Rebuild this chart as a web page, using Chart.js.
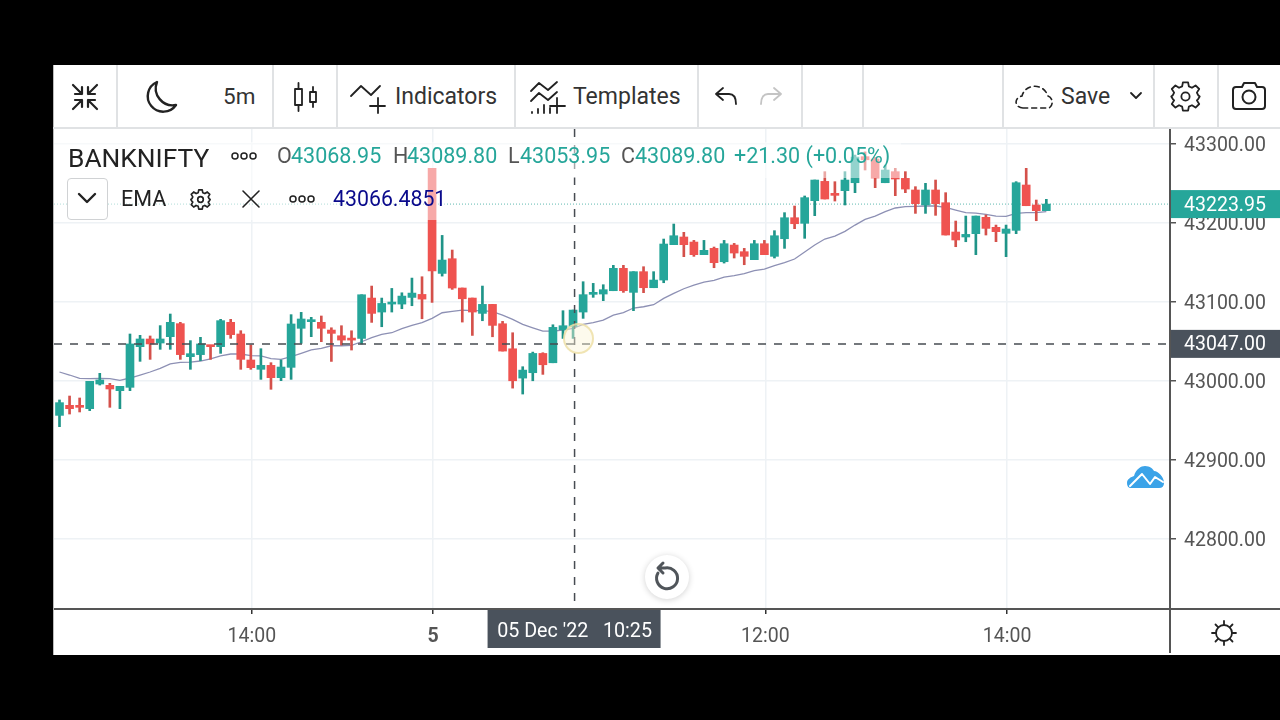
<!DOCTYPE html>
<html>
<head>
<meta charset="utf-8">
<title>BANKNIFTY</title>
<script src="https://cdn.jsdelivr.net/npm/chart.js@4"></script>
<style>
  html, body { margin: 0; padding: 0; background: #000; width: 1280px; height: 720px; overflow: hidden; }
  #app { position: absolute; left: 53px; top: 65px; width: 1227px; height: 590px; background: #fff; }
  #chart { position: absolute; left: 54px; top: 129px; }
  .sep { position: absolute; top: 65px; width: 1.5px; height: 63px; background: #e0e2e4; }
  .fade { position: absolute; background: rgba(255,255,255,0.5); }
  .t { position: absolute; font-family: Roboto, sans-serif; line-height: 1; white-space: nowrap; color: #333; }
  .g { color: #26a69a; }
  svg { position: absolute; overflow: visible; fill: none; stroke: #222; stroke-width: 2; stroke-linecap: round; stroke-linejoin: round; }
</style>
</head>
<body>
<div id="app"></div>
<div style="position:absolute;left:53px;top:65px;width:1px;height:590px;background:#bbb"></div>
<div style="position:absolute;left:53px;top:127px;width:1227px;height:2px;background:#e0e2e4"></div>
<div class="sep" style="left:116px"></div>
<div class="sep" style="left:272px"></div>
<div class="sep" style="left:336px"></div>
<div class="sep" style="left:514px"></div>
<div class="sep" style="left:697px"></div>
<div class="sep" style="left:801px"></div>
<div class="sep" style="left:862px"></div>
<div class="sep" style="left:1002px"></div>
<div class="sep" style="left:1153px"></div>
<div class="sep" style="left:1217px"></div>

<canvas id="chart" width="1226" height="526"></canvas>

<!-- legend washes out the candles under it -->
<div class="fade" style="left:54px;top:142px;width:847px;height:36px"></div>
<div class="fade" style="left:54px;top:178px;width:392px;height:42px"></div>

<!-- toolbar -->
<svg style="left:72px;top:84px;stroke-width:2.2" width="26" height="26" viewBox="0 0 26 26">
  <path d="M1 1L10 10M10 3V10H3M25 1L16 10M16 3V10H23M1 25L10 16M10 23V16H3M25 25L16 16M16 23V16H23"/>
</svg>
<svg style="left:145px;top:81px;stroke-width:2.4" width="32" height="32" viewBox="0 0 32 32">
  <path d="M12 1A15.5 15.5 0 1 0 31 24A17 17 0 0 1 12 1Z"/>
</svg>
<div class="t" style="left:223px;top:85px;font-size:22.5px">5m</div>
<svg style="left:294px;top:83px;stroke-width:1.8" width="24" height="28" viewBox="0 0 24 28">
  <rect x="1" y="6" width="7" height="16"/><path d="M4.5 0V6M4.5 22V28"/>
  <rect x="16" y="9" width="6" height="10"/><path d="M19 4V9M19 19V24"/>
</svg>
<svg style="left:351px;top:84px;stroke-width:1.8" width="34" height="30" viewBox="0 0 34 30">
  <path d="M0 12L10 2L20 11L29 2M27 14V29M19 22H34"/>
</svg>
<div class="t" style="left:395px;top:85px;font-size:23px">Indicators</div>
<svg style="left:530px;top:80px;stroke-width:1.8" width="36" height="34" viewBox="0 0 36 34">
  <path d="M1 11L9 3L18 10L27 2M1 21L9 13L18 20L27 12M2 33V32M8 33V29M14 33V25M20 33V28M27 18V33M20 26H35"/>
</svg>
<div class="t" style="left:573px;top:85px;font-size:23px">Templates</div>
<svg style="left:715px;top:87px;stroke-width:1.8" width="22" height="18" viewBox="0 0 22 18">
  <path d="M8 1L1 7L8 13M1 7H14C18 7 21 10 21 17"/>
</svg>
<svg style="left:760px;top:87px;stroke-width:1.8;stroke:#c4c4c4" width="22" height="18" viewBox="0 0 22 18">
  <path d="M14 1L21 7L14 13M21 7H8C4 7 1 10 1 17"/>
</svg>
<svg style="left:1015px;top:84px;stroke-width:1.6;stroke-dasharray:5 4" width="38" height="25" viewBox="0 0 38 25">
  <path d="M8 24C0 24-2 14 7 12C10 0 28-2 33 12C39 14 38 24 33 24Z"/>
</svg>
<div class="t" style="left:1061px;top:85px;font-size:23px">Save</div>
<svg style="left:1130px;top:92px;stroke-width:1.8" width="12" height="8" viewBox="0 0 12 8"><path d="M1 1L6 6L11 1"/></svg>
<svg style="left:1170px;top:81px;stroke-width:1.4" width="31" height="31" viewBox="0 0 24 24" id="gearTop">
  <circle cx="12" cy="12" r="3.2"/>
  <path d="M10 1H14L14.6 4.2L17 5.2L19.8 3.4L22.6 6.2L20.8 9L21.8 11L23 12L21.8 14L20.8 15L22.6 17.8L19.8 20.6L17 18.8L14.6 19.8L14 23H10L9.4 19.8L7 18.8L4.2 20.6L1.4 17.8L3.2 15L2.2 14L1 12L2.2 11L3.2 9L1.4 6.2L4.2 3.4L7 5.2L9.4 4.2Z"/>
</svg>
<svg style="left:1232px;top:82px" width="34" height="28" viewBox="0 0 34 28">
  <path d="M4 5H10L12 1H23L25 5H30Q33 5 33 8V24Q33 27 30 27H4Q1 27 1 24V8Q1 5 4 5Z"/><circle cx="17" cy="15" r="6.5"/>
</svg>

<!-- legend -->
<div class="t" style="left:68px;top:145px;font-size:26.3px;color:#222">BANKNIFTY</div>
<svg style="left:231px;top:152px;stroke-width:1.5" width="26" height="8" viewBox="0 0 26 8">
  <circle cx="4" cy="4" r="3"/><circle cx="13" cy="4" r="3"/><circle cx="22" cy="4" r="3"/>
</svg>
<div class="t" style="left:277px;top:145px;font-size:21.5px;color:#555">O</div>
<div class="t g" style="left:291px;top:145px;font-size:21.5px">43068.95</div>
<div class="t" style="left:393px;top:145px;font-size:21.5px;color:#555">H</div>
<div class="t g" style="left:407px;top:145px;font-size:21.5px">43089.80</div>
<div class="t" style="left:508px;top:145px;font-size:21.5px;color:#555">L</div>
<div class="t g" style="left:520px;top:145px;font-size:21.5px">43053.95</div>
<div class="t" style="left:621px;top:145px;font-size:21.5px;color:#555">C</div>
<div class="t g" style="left:635px;top:145px;font-size:21.5px">43089.80</div>
<div class="t g" style="left:734px;top:145px;font-size:21.5px">+21.30 (+0.05%)</div>

<div style="position:absolute;left:67px;top:178px;width:39px;height:40px;border:1.5px solid #d0d2d4;border-radius:4px;background:#fff"></div>
<svg style="left:78px;top:193px;stroke-width:2.4" width="18" height="11" viewBox="0 0 18 11"><path d="M1 1L9 9L17 1"/></svg>
<div class="t" style="left:121px;top:188px;font-size:21.5px;color:#222">EMA</div>
<svg style="left:190px;top:189px;stroke-width:1.9" width="21" height="21" viewBox="0 0 24 24">
  <circle cx="12" cy="12" r="3.2"/>
  <path d="M10 1H14L14.6 4.2L17 5.2L19.8 3.4L22.6 6.2L20.8 9L21.8 11L23 12L21.8 14L20.8 15L22.6 17.8L19.8 20.6L17 18.8L14.6 19.8L14 23H10L9.4 19.8L7 18.8L4.2 20.6L1.4 17.8L3.2 15L2.2 14L1 12L2.2 11L3.2 9L1.4 6.2L4.2 3.4L7 5.2L9.4 4.2Z"/>
</svg>
<svg style="left:243px;top:191px;stroke-width:1.6" width="16" height="16" viewBox="0 0 16 16"><path d="M0 0L16 16M16 0L0 16"/></svg>
<svg style="left:289px;top:195px;stroke-width:1.5" width="26" height="8" viewBox="0 0 26 8">
  <circle cx="4" cy="4" r="3"/><circle cx="13" cy="4" r="3"/><circle cx="22" cy="4" r="3"/>
</svg>
<div class="t" style="left:333px;top:188px;font-size:21.3px;color:#0a0a8c">43066.4851</div>

<!-- touch ring -->
<div style="position:absolute;left:563px;top:323px;width:27px;height:27px;border:2px solid rgba(236,222,160,0.75);border-radius:50%;background:rgba(250,245,215,0.45)"></div>

<!-- reset button -->
<div style="position:absolute;left:645px;top:555px;width:44px;height:44px;border-radius:50%;background:#fff;box-shadow:0 1px 6px rgba(0,0,0,0.18)"></div>
<svg style="left:653px;top:562px;stroke:#50555a;stroke-width:3" width="24" height="28" viewBox="0 0 24 28">
  <path d="M5 11A10.5 10.5 0 1 0 12 6H6M10 1L5 6L10 11"/>
</svg>

<!-- vendor cloud -->
<svg style="left:1127px;top:466px;stroke:none" width="37" height="22" viewBox="0 0 37 22">
  <path style="fill:#3ba3e8" d="M0 17C0 13 4 11 7 10C9 3 14 0 18 0C23 0 26 3 27 5C31 5 37 11 37 17Q37 22 32 22H4Q0 22 0 17Z"/>
  <path style="stroke:#fff;stroke-width:2" d="M3 20L15 8L23 18L28 11L36 16"/>
</svg>

<!-- settings sun -->
<svg style="left:1211px;top:620px;stroke-width:1.8" width="26" height="26" viewBox="0 0 26 26">
  <circle cx="13" cy="13" r="8"/><path d="M13 1V5M13 21V25M1 13H5M21 13H25M4.5 4.5L7.3 7.3M18.7 18.7L21.5 21.5M4.5 21.5L7.3 18.7M18.7 7.3L21.5 4.5"/>
</svg>

<script>
const opens = [
  42956.5, 42969.2, 42968.8, 42965, 42996.2, 42994.5, 42987.8, 42992, 43043.5, 43053.2,
  43048.1, 43056.1, 43072.6, 43030.8, 43033.4, 43045.2, 43043.5, 43074.3, 43059.5, 43026.6,
  43014.8, 43019.8, 43004.2, 43017.3, 43066.7, 43075.1, 43074.3, 43064.5, 43057.3, 43053.1,
  43053.9, 43105, 43087.3, 43097.4, 43097.4, 43105.8, 43109.6, 43269.1, 43136.2, 43154.8,
  43117.7, 43105, 43085.6, 43097, 43072.5, 43040.8, 43003.7, 43010.5, 43034.9, 43023.1,
  43064.9, 43068.95, 43087.3, 43109.7, 43110.1, 43114.3, 43142.6, 43112.2, 43138.4, 43118.1,
  43127.8, 43172.6, 43182.3, 43175.9, 43159.9, 43167.9, 43151, 43172.1, 43163.7, 43153.6,
  43173.8, 43157.8, 43180.1, 43206.7, 43199.6, 43228.3, 43252.7, 43236.3, 43240.9, 43251,
  43284, 43281, 43251, 43265, 43256.5, 43241.8, 43222.8, 43241.8, 43225.7, 43188.6,
  43182.3, 43186.5, 43207.2, 43194.5, 43186.9, 43190.7, 43248.1, 43222.8, 43215.6
];
const highs = [
  42976, 42981, 42978.5, 42999.6, 43009.7, 42997.1, 42993.3, 43059.5, 43057.8, 43057,
  43070.1, 43084.8, 43074.3, 43051.1, 43055.3, 43045.2, 43078.1, 43078.1, 43063.7, 43045.6,
  43040.9, 43023.2, 43026.6, 43084, 43086.9, 43080.6, 43082.3, 43067.4, 43070, 43063.6,
  43109.2, 43120.2, 43105, 43117.2, 43111.7, 43130.3, 43132, 43269.1, 43184.3, 43165.8,
  43117.7, 43105, 43120.2, 43097, 43075.5, 43061.1, 43018.1, 43036.6, 43035.8, 43071.2,
  43089, 43089.8, 43125.7, 43123.6, 43121.9, 43146.4, 43146.4, 43138.4, 43144.7, 43138.4,
  43179.7, 43198.7, 43188.2, 43178, 43178, 43169.6, 43178, 43174.2, 43167.9, 43178,
  43178, 43190.3, 43213.1, 43221.5, 43234.2, 43254.4, 43265, 43252.3, 43265, 43286,
  43290, 43283, 43273.4, 43269.2, 43265, 43246, 43250.2, 43254.4, 43238.4, 43202.5,
  43208.8, 43208.8, 43210.1, 43197.4, 43197.4, 43252.3, 43269.2, 43229.1, 43230
];
const lows = [
  42942.2, 42958.2, 42960.8, 42962.5, 42994.9, 42966.7, 42965, 42987.8, 43024.9, 43027.4,
  43040.1, 43040.1, 43027.4, 43014.8, 43025.8, 43027.4, 43035, 43054, 43014.8, 43014.8,
  43002.1, 42989.5, 43000.4, 43002.1, 43047.7, 43056.1, 43049.8, 43024.8, 43045.5, 43039.2,
  43046.8, 43074.2, 43068.7, 43087.3, 43091.5, 43095.3, 43078.8, 43099.5, 43132.8, 43116,
  43074.6, 43057.7, 43076.3, 43056, 43037.9, 42991, 42983.5, 43000.3, 43008.4, 43023.1,
  43053.9, 43053.95, 43079.3, 43105.9, 43101.7, 43114.3, 43112.2, 43089, 43111.8, 43118.1,
  43124.4, 43172.6, 43157.4, 43157.8, 43159.9, 43143.4, 43149.3, 43155.7, 43147.2, 43153.6,
  43159.9, 43155.7, 43167.9, 43192.8, 43180.6, 43209.3, 43230.4, 43227.8, 43222.8, 43238.4,
  43267.1, 43244.7, 43251, 43234.6, 43238.4, 43212.2, 43212.2, 43209.7, 43184.8, 43170,
  43176.3, 43159.9, 43184.8, 43176.4, 43157.4, 43186.5, 43221.9, 43202.9, 43215.6
];
const closes = [
  42972.6, 42965, 42966.7, 42999.6, 43001.3, 42989.9, 42993.3, 43046.9, 43053.2, 43046.9,
  43053.2, 43074.3, 43033.4, 43034.6, 43046.9, 43043.5, 43076.4, 43058.7, 43027.4, 43016.9,
  43019.8, 43004.2, 43017.7, 43072.2, 43078.5, 43076.4, 43066.7, 43060.3, 43051.8, 43051.8,
  43109.2, 43085.6, 43098.2, 43098.7, 43107.5, 43111.3, 43103.7, 43139.2, 43153.1, 43117.7,
  43104.1, 43087.3, 43097, 43070.4, 43037.9, 43000.3, 43013.8, 43034.9, 43020.6, 43067.9,
  43070, 43089.8, 43109.3, 43111.4, 43115.6, 43142.6, 43114.3, 43138.4, 43118.1, 43127.8,
  43173.4, 43183.9, 43172.6, 43159.9, 43165.4, 43149.8, 43173.8, 43162, 43157.8, 43173.8,
  43159.9, 43183.9, 43206.7, 43199.1, 43232.1, 43254.4, 43230.4, 43235, 43254.4, 43283.5,
  43280, 43257, 43267.1, 43255.7, 43243, 43224.5, 43241.8, 43224.5, 43184.8, 43178.5,
  43185.6, 43208.8, 43193.2, 43189, 43192.4, 43251, 43221.9, 43215.6, 43223.95
];
const emaValues = [
  43011.4, 43007.6, 43003.4, 43003, 43003.4, 43003, 43000.9, 43003.8, 43007.6, 43011.4,
  43016, 43021.7, 43023.6, 43024, 43025.3, 43027.9, 43031.7, 43034.2, 43034.2, 43032.1,
  43031.7, 43028.3, 43027.4, 43030.8, 43035, 43039.3, 43041.4, 43044.6, 43044.6, 43045,
  43049.7, 43054.8, 43059, 43061.1, 43066.2, 43070.4, 43073.8, 43079.3, 43086.4, 43088.1,
  43089.8, 43089, 43089, 43087.7, 43083.5, 43078, 43071.7, 43067.4, 43063.2, 43063.2,
  43064.5, 43066.49, 43071.7, 43073.8, 43077.2, 43083.5, 43086.5, 43092.4, 43094, 43096.6,
  43104.6, 43110.9, 43116.8, 43121.5, 43125.3, 43127.4, 43131.6, 43133.3, 43135.8, 43139.6,
  43141.7, 43146, 43149.8, 43154.4, 43163.3, 43172.1, 43179.7, 43183.5, 43189.4, 43197.4,
  43204.6, 43208.8, 43214.3, 43219, 43220.7, 43221.1, 43221.5, 43221.5, 43219.8, 43216.4,
  43213.1, 43212.6, 43211, 43208.8, 43208.4, 43212.2, 43213.1, 43213.1, 43214.3
];
const xTickBars = [19.1, 37.1, 70.1, 94.1];
const xTickLabels = ['14:00', '5', '12:00', '14:00'];
const yTicks = [42800, 42900, 43000, 43100, 43200, 43300];
const lastPrice = 43223.95;
const crossPrice = 43047;
const crossBar = 51.15;
const crossTime = "05 Dec '22   10:25";

const green = '#26a69a';
const red = '#ef5350';
const isUp = (i) => closes[i] >= opens[i];

const overlays = {
  id: 'overlays',
  beforeDatasetsDraw(chart) {
    const { ctx, chartArea: a, scales: { y } } = chart;
    const py = y.getPixelForValue(lastPrice);
    ctx.save();
    ctx.strokeStyle = '#5fb9b0';
    ctx.lineWidth = 1;
    ctx.setLineDash([1, 2]);
    ctx.beginPath(); ctx.moveTo(a.left, py); ctx.lineTo(a.right, py); ctx.stroke();
    ctx.restore();
  },
  afterDraw(chart) {
    const { ctx, chartArea: a, scales: { x, y }, width, height } = chart;
    const px = x.getPixelForValue(crossBar);
    const py = y.getPixelForValue(crossPrice);
    const lastY = y.getPixelForValue(lastPrice);
    ctx.save();
    // axis lines past the plot
    ctx.fillStyle = '#555';
    ctx.fillRect(a.right, a.bottom - 1, width - a.right, 2);
    ctx.fillRect(a.right - 1, a.bottom, 2, height - a.bottom - 2);
    // crosshair
    ctx.strokeStyle = '#474c52';
    ctx.lineWidth = 1.5;
    ctx.setLineDash([8, 8]);
    ctx.beginPath(); ctx.moveTo(a.left, py); ctx.lineTo(a.right, py); ctx.stroke();
    ctx.beginPath(); ctx.moveTo(px, a.top); ctx.lineTo(px, a.bottom); ctx.stroke();
    ctx.setLineDash([]);
    // price tags
    ctx.font = '19.5px Roboto, sans-serif';
    ctx.textBaseline = 'middle';
    ctx.textAlign = 'center';
    ctx.fillStyle = green;
    ctx.fillRect(a.right + 1, lastY - 14, width - a.right, 28);
    ctx.fillStyle = '#fff';
    ctx.fillText(lastPrice.toFixed(2), a.right + 55, lastY + 2);
    ctx.fillStyle = '#4a525c';
    ctx.fillRect(a.right + 1, py - 14, width - a.right, 28);
    ctx.fillStyle = '#fff';
    ctx.fillText(crossPrice.toFixed(2), a.right + 55, py + 1);
    // time tag
    ctx.fillStyle = '#4a525c';
    ctx.fillRect(px - 87, a.bottom + 1, 173, 38);
    ctx.fillStyle = '#fff';
    ctx.font = '19.7px Roboto, sans-serif';
    ctx.fillText(crossTime, px, a.bottom + 23);
    ctx.restore();
  },
};

const bars = opens.map((_, i) => i);

new Chart(document.getElementById('chart').getContext('2d'), {
  data: {
    datasets: [
      {
        type: 'bar',
        label: 'Body',
        order: 1,
        grouped: false,
        barThickness: 8,
        minBarLength: 2,
        data: bars.map((i) => ({ x: i, y: [opens[i], closes[i]] })),
        backgroundColor: bars.map((i) => (isUp(i) ? green : red)),
      },
      {
        type: 'bar',
        label: 'Wick',
        order: 2,
        grouped: false,
        barThickness: 2,
        data: bars.map((i) => ({ x: i, y: [lows[i], highs[i]] })),
        backgroundColor: bars.map((i) => (isUp(i) ? '#1f9488' : '#d4504a')),
      },
      {
        type: 'line',
        label: 'EMA',
        order: 3,
        data: bars.map((i) => ({ x: i, y: emaValues[i] })),
        borderColor: '#8d90b4',
        borderWidth: 1.3,
        pointRadius: 0,
        tension: 0,
      },
    ],
  },
  options: {
    responsive: false,
    animation: false,
    devicePixelRatio: 1,
    layout: { padding: 0 },
    plugins: { legend: { display: false }, tooltip: { enabled: false } },
    scales: {
      x: {
        type: 'linear',
        offset: false,
        min: -0.546,
        max: 110.28,
        grid: { offset: false, color: '#eef2f5', lineWidth: 1.5, tickColor: '#333', tickLength: 5 },
        border: { color: '#555', width: 2 },
        afterBuildTicks: (axis) => { axis.ticks = xTickBars.map((value) => ({ value })); },
        afterFit: (axis) => { axis.height = 46; axis.paddingLeft = 0; axis.paddingRight = 0; },
        ticks: {
          autoSkip: false,
          maxRotation: 0,
          padding: 11,
          color: '#555',
          font: (ctx) => ({
            family: 'Roboto, sans-serif',
            size: 19.5,
            weight: ctx.index === 1 ? 'bold' : 'normal',
          }),
          callback: (value, index) => xTickLabels[index],
        },
      },
      y: {
        position: 'right',
        min: 42711.4,
        max: 43319,
        grid: { color: '#eef2f5', lineWidth: 1.5, tickColor: '#555', tickLength: 6 },
        border: { color: '#555', width: 2 },
        afterBuildTicks: (axis) => { axis.ticks = yTicks.map((value) => ({ value })); },
        afterFit: (axis) => { axis.width = 110; axis.paddingTop = 0; axis.paddingBottom = 0; },
        ticks: {
          autoSkip: false,
          padding: 8,
          labelOffset: 2,
          color: '#555',
          font: { family: 'Roboto, sans-serif', size: 19.5 },
          callback: (value) => value.toFixed(2),
        },
      },
    },
  },
  plugins: [overlays],
});
</script>
</body>
</html>
